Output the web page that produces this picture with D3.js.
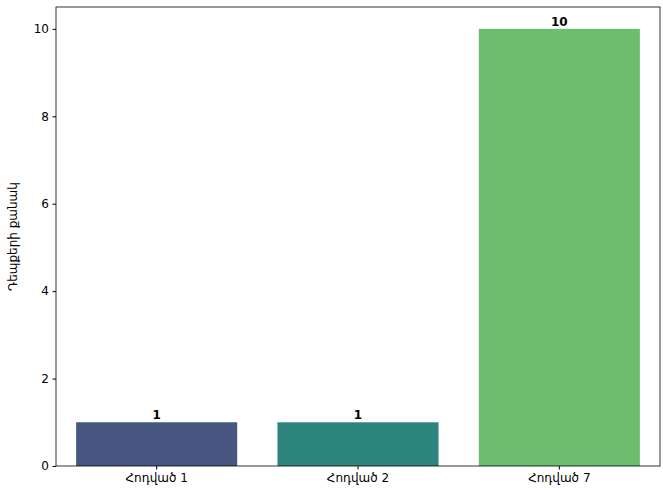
<!DOCTYPE html>
<html><head><meta charset="utf-8">
<script src="https://cdn.jsdelivr.net/npm/d3@7"></script>
<style>body{margin:0;background:#fff}svg{display:block}text{font-family:"DejaVu Sans",sans-serif}</style>
</head><body><svg id="c" width="663" height="491"></svg>
<script>
const categories = ["Հոդված 1", "Հոդված 2", "Հոդված 7"];
const values = [1, 1, 10];
const colors = ["#465680", "#2e857e", "#6cbd6e"];
const yTicks = [0, 2, 4, 6, 8, 10];
const yLabel = "Դեպքերի քանակ";

const svg = d3.select("#c");
const m = {l: 56, r: 660, t: 7, b: 466};
const x = d3.scaleBand().domain(categories).range([m.l, m.r]).paddingInner(0.2).paddingOuter(0.1);
const y = d3.scaleLinear().domain([0, 10.5]).range([m.b, m.t]);

svg.selectAll("rect.bar").data(values).enter().append("rect").attr("class","bar")
  .attr("x", (d,i)=>x(categories[i])).attr("width", x.bandwidth())
  .attr("y", d=>y(d)).attr("height", d=>y(0)-y(d))
  .attr("fill", (d,i)=>colors[i]);

svg.selectAll("text.val").data(values).enter().append("text").attr("class","val")
  .attr("x", (d,i)=>x(categories[i])+x.bandwidth()/2).attr("y", d=>y(d)-3)
  .attr("text-anchor","middle").attr("font-size","12px").attr("font-weight","bold").text(d=>d);

const xa = svg.append("g").attr("transform",`translate(0,${m.b})`).call(d3.axisBottom(x).tickSize(3.5).tickPadding(3.5));
const ya = svg.append("g").attr("transform",`translate(${m.l},0)`).call(d3.axisLeft(y).tickValues(yTicks).tickSize(3.5).tickPadding(3.5));
[xa, ya].forEach(g=>{ g.selectAll("text").attr("font-size","12px").attr("font-family","DejaVu Sans").attr("fill","#000");
  g.select(".domain").remove(); g.selectAll(".tick line").attr("stroke","#000"); });

svg.append("rect").attr("x", m.l).attr("y", m.t).attr("width", m.r-m.l).attr("height", m.b-m.t)
  .attr("fill","none").attr("stroke","#000").attr("stroke-width",0.8);

svg.append("text").attr("transform",`translate(17,${(m.t+m.b)/2}) rotate(-90)`).attr("text-anchor","middle")
  .attr("font-size","12px").text(yLabel);
</script></body></html>
